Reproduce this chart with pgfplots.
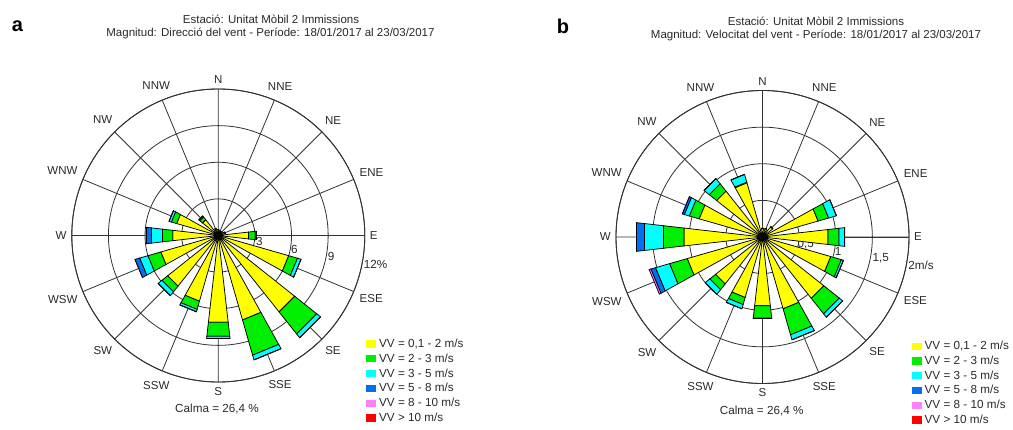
\documentclass[border=0pt]{standalone}
\usepackage{fontspec}
\setmainfont{Liberation Sans}
\usepackage{pgfplots}
\usepackage{pgfplotstable}
\usepgfplotslibrary{polar}
\pgfplotsset{compat=1.18}

\definecolor{wyel}{RGB}{255,255,0}
\definecolor{wgrn}{RGB}{0,238,0}
\definecolor{wcyn}{RGB}{0,255,255}
\definecolor{wblu}{RGB}{0,112,240}
\definecolor{wmag}{RGB}{255,128,255}
\definecolor{wred}{RGB}{255,0,0}
\definecolor{gridc}{RGB}{50,50,50}
\definecolor{txtc}{RGB}{40,40,40}

% cumulative radius of each speed class, per direction (angle: 0 = E, counterclockwise)
% panel a: frequency in %
\pgfplotstableread{
ang    y     g     c     b     m
90     0.5   0.5   0.5   0.5   0.5
67.5   0.4   0.4   0.4   0.4   0.4
45     0.4   0.4   0.4   0.4   0.4
22.5   0.6   0.6   0.6   0.6   0.6
0      2.5   3.05  3.1   3.1   3.1
337.5  6.0   6.75  7.05  7.05  7.05
315    8.0   10.3  10.7  10.7  10.7
292.5  7.2   10.2  10.6  10.6  10.6
270    7.15  8.3   8.5   8.5   8.5
247.5  5.6   6.3   6.5   6.5   6.5
225    5.3   5.9   6.3   6.3   6.3
202.5  4.9   6.0   6.7   7.1   7.1
180    3.75  4.6   5.5   5.95  5.95
157.5  3.55  4.0   4.2   4.2   4.2
135    1.65  1.95  2.05  2.05  2.05
112.5  0.6   0.6   0.6   0.6   0.6
}\roseA

% panel b: speed in m/s
\pgfplotstableread{
ang    y     g     c     b     m
90     0.12  0.12  0.12  0.12  0.12
67.5   0.12  0.12  0.12  0.12  0.12
45     0.18  0.18  0.18  0.18  0.18
22.5   0.79  0.94  1.05  1.05  1.05
0      0.9   1.05  1.13  1.13  1.13
337.5  0.97  1.12  1.15  1.15  1.15
315    1.07  1.34  1.40  1.40  1.40
292.5  1.02  1.39  1.46  1.46  1.46
270    0.945 1.115 1.12  1.12  1.12
247.5  0.86  0.96  1.02  1.02  1.02
225    0.82  0.92  1.0   1.0   1.0
202.5  1.07  1.32  1.52  1.585 1.61
180    1.08  1.36  1.62  1.73  1.73
157.5  0.90  1.04  1.11  1.14  1.14
135    0.80  0.93  1.02  1.02  1.02
112.5  0.77  0.78  0.89  0.89  0.89
}\roseB

\newcommand\onband[3]{%
  \pgfplotstablegetelem{\i}{#2}\of{#1}\let\rhi\pgfplotsretval
  \edef\tmp{\noexpand\addplot[forget plot, draw=black, line width=0.75pt, fill=#3]
    coordinates {(\aL,\rlo) (\aR,\rlo) (\aR,\rhi) (\aL,\rhi)} -- cycle;}%
  \tmp
  \let\rlo\rhi}
\newcommand\drawrose[1]{%
  \pgfplotstablegetrowsof{#1}\pgfmathtruncatemacro\nlast{\pgfplotsretval-1}%
  \pgfplotsforeachungrouped \i in {0,...,\nlast}{%
    \pgfplotstablegetelem{\i}{ang}\of{#1}%
    \pgfmathsetmacro\aL{\pgfplotsretval-6.5}%
    \pgfmathsetmacro\aR{\pgfplotsretval+6.5}%
    \def\rlo{0}%
    \onband{#1}{y}{wyel}\onband{#1}{g}{wgrn}\onband{#1}{c}{wcyn}%
    \onband{#1}{b}{wblu}\onband{#1}{m}{wmag}}}

\pgfplotsset{
  legimg/.style={draw=none, legend image code/.code={\path[##1] (0pt,-3.6pt) rectangle (10pt,3.6pt);}},
  rose/.style={
    scale only axis, width=293pt, height=293pt,
    anchor=center, clip=false,
    xmin=0, xmax=360, ymin=0,
    xtick={0,22.5,...,337.5},
    xticklabels={E,ENE,NE,NNE,N,NNW,NW,WNW,W,WSW,SW,SSW,S,SSE,SE,ESE},
    yticklabels={},
    grid=major,
    major grid style={gridc, line width=0.8pt},
    axis line style={gridc, line width=0.9pt},
    major tick length=0pt,
    xticklabel style={font=\fontsize{11.5}{13}\selectfont, text=txtc, inner sep=5pt},
    legend cell align=left,
    legend style={draw=none, fill=none, anchor=north west,
      font=\fontsize{11.7}{13}\selectfont, text=txtc, row sep=3.2pt,
      inner sep=0pt, nodes={inner xsep=3pt, inner ysep=0.8pt}},
  }
}

\begin{document}
\begin{tikzpicture}
\path[use as bounding box] (0,0) rectangle (1013pt,429pt);
\node[font=\fontsize{20}{22}\selectfont\bfseries] at (17.5pt,403pt) {a};
\node[font=\fontsize{20}{22}\selectfont\bfseries] at (563pt,403pt) {b};
\node[font=\fontsize{11.5}{13}\selectfont, text=txtc] at (271pt,410pt) {Estació: Unitat Mòbil 2 Immissions};
\node[font=\fontsize{11.5}{13}\selectfont, text=txtc] at (270.5pt,396pt) {Magnitud: Direcció del vent - Període: 18/01/2017 al 23/03/2017};
\node[font=\fontsize{11.5}{13}\selectfont, text=txtc] at (816pt,408pt) {Estació: Unitat Mòbil 2 Immissions};
\node[font=\fontsize{11.5}{13}\selectfont, text=txtc] at (816pt,394pt) {Magnitud: Velocitat del vent - Període: 18/01/2017 al 23/03/2017};
\node[font=\fontsize{11.7}{13}\selectfont, text=txtc] at (217pt,20pt) {Calma = 26,4 \%};
\node[font=\fontsize{11.7}{13}\selectfont, text=txtc] at (761.7pt,18pt) {Calma = 26,4 \%};

\begin{polaraxis}[rose, at={(218.3pt,193.5pt)}, ymax=12, ytick={3,6,9,12},
  legend style={at={(1.004,0.150)}}]
  \node[font=\fontsize{11.7}{13}\selectfont, text=txtc] at (axis cs:-8.6,3.4) {3};
  \node[font=\fontsize{11.7}{13}\selectfont, text=txtc] at (axis cs:-10.3,6.33) {6};
  \node[font=\fontsize{11.7}{13}\selectfont, text=txtc] at (axis cs:-10.6,9.4) {9};
  \node[font=\fontsize{11.7}{13}\selectfont, text=txtc] at (axis cs:-10.3,13.1) {12\%};
  \drawrose{\roseA}
  \addlegendimage{legimg, fill=wyel}\addlegendentry{VV = 0,1 - 2 m/s}
  \addlegendimage{legimg, fill=wgrn}\addlegendentry{VV = 2 - 3 m/s}
  \addlegendimage{legimg, fill=wcyn}\addlegendentry{VV = 3 - 5 m/s}
  \addlegendimage{legimg, fill=wblu}\addlegendentry{VV = 5 - 8 m/s}
  \addlegendimage{legimg, fill=wmag}\addlegendentry{VV = 8 - 10 m/s}
  \addlegendimage{legimg, fill=wred}\addlegendentry{VV > 10 m/s}
\end{polaraxis}

\begin{polaraxis}[rose, at={(762.5pt,192pt)}, ymax=2, ytick={0.5,1,1.5,2},
  legend style={at={(1.0085,0.148)}}]
  \node[font=\fontsize{11.7}{13}\selectfont, text=txtc] at (axis cs:-10,0.6) {0,5};
  \node[font=\fontsize{11.7}{13}\selectfont, text=txtc] at (axis cs:-11,1.05) {1};
  \node[font=\fontsize{11.7}{13}\selectfont, text=txtc] at (axis cs:-10,1.64) {1,5};
  \node[font=\fontsize{11.7}{13}\selectfont, text=txtc] at (axis cs:-10.3,2.2) {2m/s};
  \drawrose{\roseB}
  \addlegendimage{legimg, fill=wyel}\addlegendentry{VV = 0,1 - 2 m/s}
  \addlegendimage{legimg, fill=wgrn}\addlegendentry{VV = 2 - 3 m/s}
  \addlegendimage{legimg, fill=wcyn}\addlegendentry{VV = 3 - 5 m/s}
  \addlegendimage{legimg, fill=wblu}\addlegendentry{VV = 5 - 8 m/s}
  \addlegendimage{legimg, fill=wmag}\addlegendentry{VV = 8 - 10 m/s}
  \addlegendimage{legimg, fill=wred}\addlegendentry{VV > 10 m/s}
\end{polaraxis}
\end{tikzpicture}
\end{document}
